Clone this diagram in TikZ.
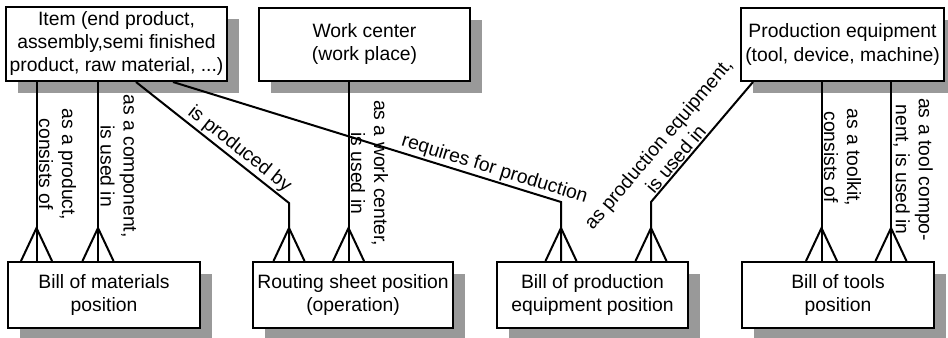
\documentclass[tikz,border=0pt]{standalone}
\usepackage{fontspec}
\setmainfont{Liberation Sans}
\usetikzlibrary{shadows}
\begin{document}
\begin{tikzpicture}[x=0.75pt, y=-0.75pt, line width=1.5pt,
  every node/.style={font=\fontsize{14.5}{17.25}\selectfont},
  ent/.style={draw, fill=white, line width=1.5pt, inner sep=1pt, minimum height=49.5pt, align=center,
    drop shadow={shadow xshift=9pt, shadow yshift=-9pt, fill=black!40, opacity=1}},
  lbl/.style={sloped, above, inner sep=1pt, align=center},
  crow/.pic={\draw (-15.5,0) -- (0,-33) -- (15.5,0);}]
\useasboundingbox (0,0) rectangle (948,338);
% master data (top row)
\node[ent, minimum width=165.75pt, minimum height=55.5pt] (item) at (116.5,44) {Item (end product,\\assembly,semi finished\\product, raw material, ...)};
\node[ent, minimum width=158.25pt, minimum height=54.75pt] (wc) at (364.5,44.5) {Work center\\(work place)};
\node[ent, minimum width=152.25pt, minimum height=54.75pt] (pe) at (842.5,44.5) {Production equipment\\(tool, device, machine)};
% structure data (bottom row)
\node[ent, minimum width=144pt] (bom) at (104,295) {Bill of materials\\position};
\node[ent, minimum width=150pt] (rsp) at (353,295) {Routing sheet position\\(operation)};
\node[ent, minimum width=143.25pt] (bpe) at (592.5,295) {Bill of production\\equipment position};
\node[ent, minimum width=144pt] (bot) at (838,295) {Bill of tools\\position};
% feet on the bottom boxes, and bends
\coordinate (f1) at (36.5,261);
\coordinate (f2) at (98,261);
\coordinate (f3) at (289,261);
\coordinate (f4) at (348.5,261);
\coordinate (f5) at (561,261);
\coordinate (f6) at (651,261);
\coordinate (f7) at (821.5,261);
\coordinate (f8) at (891,261);
\coordinate (b3) at (289,203);
\coordinate (b5) at (561,202);
\coordinate (b6) at (651,202);
% relationships
\draw (item.south -| f1) -- (f1) node[lbl, pos=0.46] {as a product,\\consists of};
\draw (item.south -| f2) -- (f2) node[lbl, pos=0.47] {as a component,\\is used in};
\draw (item.south -| 136,0) -- (b3) node[lbl, pos=0.63] {is produced by} -- (f3);
\draw (wc.south -| f4) -- (f4) node[lbl, pos=0.51] {as a work center,\\is used in};
\draw (item.south -| 173,0) -- (b5) node[lbl, pos=0.82] {requires for production} -- (f5);
\draw (f6) -- (b6) -- (pe.south -| 753,0) node[lbl, pos=0.31] {as production equipment,\\is used in};
\draw (pe.south -| f7) -- (f7) node[lbl, pos=0.42] {as a toolkit,\\consists of};
\draw (pe.south -| f8) -- (f8) node[lbl, pos=0.49] {as a tool compo-\\nent, is used in};
% crow's feet
\foreach \f in {f1,f2,f3,f4,f5,f6,f7,f8}
  \pic at (\f) {crow};
\end{tikzpicture}
\end{document}
